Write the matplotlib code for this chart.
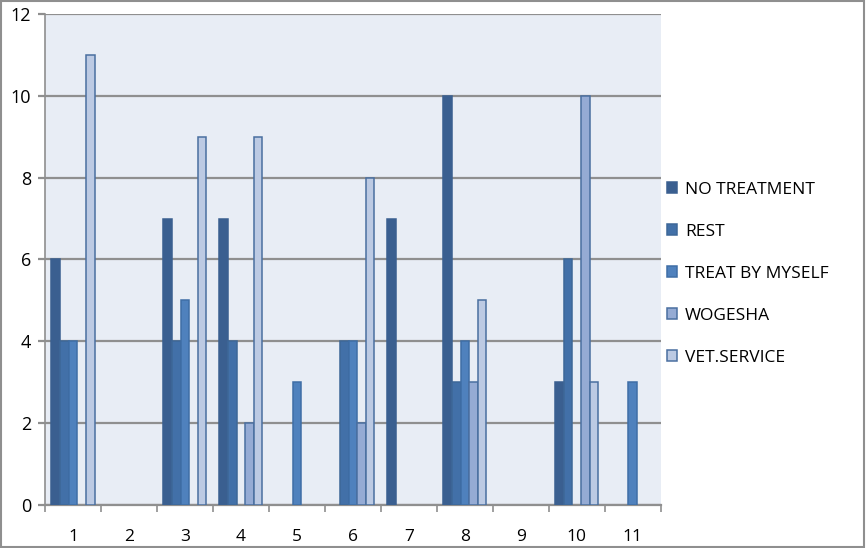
import numpy as np
import matplotlib
matplotlib.use('Agg')
import matplotlib.pyplot as plt
from matplotlib.patches import Rectangle

plt.rcParams['font.family'] = ['Open Sans', 'DejaVu Sans']

groups = [str(i) for i in range(1, 12)]
series = ['NO TREATMENT', 'REST', 'TREAT BY MYSELF', 'WOGESHA', 'VET.SERVICE']
no_treatment = [6, 0, 7, 7, 0, 0, 7, 10, 0, 3, 0]
rest = [4, 0, 4, 4, 0, 4, 0, 3, 0, 6, 0]
treat_by_myself = [4, 0, 5, 0, 3, 4, 0, 4, 0, 0, 3]
wogesha = [0, 0, 0, 2, 0, 2, 0, 3, 0, 10, 0]
vet_service = [11, 0, 9, 9, 0, 8, 0, 5, 0, 3, 0]
values = [no_treatment, rest, treat_by_myself, wogesha, vet_service]

fills = ['#3a5f90', '#4270a8', '#4f81bd', '#95abd4', '#bccae3']
edges = ['#3a5f90', '#3d6798', '#3f6ea6', '#4a6fa0', '#4a6fa0']

fig = plt.figure(figsize=(8.66, 5.48), dpi=100)
ax = fig.add_axes([0.052, 0.0785, 0.711, 0.896])
ax.set_facecolor('#e8edf5')

x = np.arange(len(groups))
w = 1 / 6.5
for i, (name, vals) in enumerate(zip(series, values)):
    # zero values get no bar at all (no edge line along the axis)
    h = np.where(np.array(vals) == 0, np.nan, vals)
    ax.bar(x - 2 * w + i * w, h, w, color=fills[i], edgecolor=edges[i],
           linewidth=1.1, label=name, zorder=3)

ax.set_xlim(-0.5, len(groups) - 0.5)
ax.set_ylim(0, 12)
ax.set_yticks(range(0, 13, 2))
ax.yaxis.grid(True, color='#8f8f8f', linewidth=1.6, zorder=1)
ax.set_xticks(x)
ax.set_xticklabels(groups)
ax.set_xticks(np.arange(-0.5, len(groups), 1), minor=True)
ax.tick_params(axis='x', which='major', length=0, pad=17, labelsize=12.5)
ax.tick_params(axis='x', which='minor', length=5, color='#8f8f8f', width=1.2)
ax.tick_params(axis='y', length=5, color='#8f8f8f', width=1.6, pad=5, labelsize=13)
for s in ['top', 'right']:
    ax.spines[s].set_visible(False)
ax.spines['left'].set_color('#8f8f8f')
ax.spines['bottom'].set_color('#8f8f8f')
ax.spines['left'].set_linewidth(1.2)
ax.spines['bottom'].set_linewidth(1.6)

fig.legend(loc='center left', bbox_to_anchor=(667 / 866, 0.5), frameon=False,
           fontsize=12.5, handlelength=0.6, handleheight=0.6,
           labelspacing=1.5, handletextpad=0.45, borderaxespad=0, borderpad=0)

fig.patches.append(Rectangle((0.001, 0.001), 0.997, 0.997, transform=fig.transFigure,
                             fill=False, edgecolor='#8f8f8f', linewidth=1.5))

fig.savefig('out.png', dpi=100)
